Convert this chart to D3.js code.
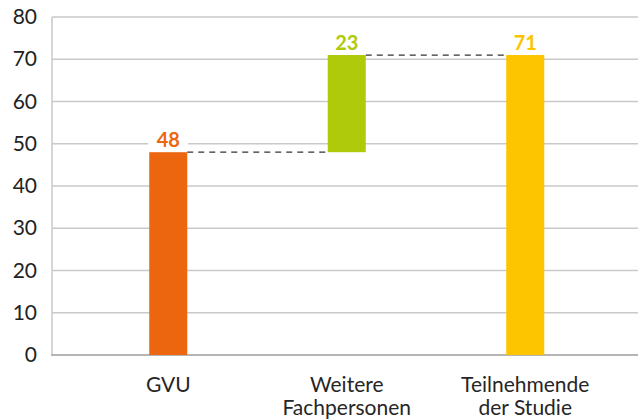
<!DOCTYPE html>
<html>
<head>
<meta charset="utf-8">
<script src="https://cdn.jsdelivr.net/npm/d3@7"></script>
<style>
  html, body { margin: 0; padding: 0; background: #fff; }
  svg { display: block; font-family: Lato, "Open Sans", sans-serif; }
</style>
</head>
<body>
<svg id="chart" width="638" height="419"></svg>
<script>
// Waterfall: each step starts where the previous one ends; the last bar is the total.
const categories = [["GVU"], ["Weitere", "Fachpersonen"], ["Teilnehmende", "der Studie"]];
const startValues = [0, 48, 0];
const endValues = [48, 71, 71];
const labels = ["48", "23", "71"];
const colors = ["#EC6610", "#AFCA0B", "#FDC500"];
const yTicks = [0, 10, 20, 30, 40, 50, 60, 70, 80];

const svg = d3.select("#chart");
const plotLeft = 52, plotRight = 638, plotTop = 17, plotBottom = 355;

const y = d3.scaleLinear().domain([0, 80]).range([plotBottom, plotTop]);
const x = d3.scaleBand()
  .domain(d3.range(categories.length))
  .range([79, 614.5])
  .paddingInner(0.787)
  .paddingOuter(0.787 / 2);

// Gridlines
svg.append("g")
  .selectAll("line")
  .data(yTicks.filter(d => d > 0))
  .join("line")
  .attr("x1", plotLeft).attr("x2", plotRight)
  .attr("y1", d => y(d)).attr("y2", d => y(d))
  .attr("stroke", "#c9c9c9").attr("stroke-width", 1.5);

// Left axis line
svg.append("line")
  .attr("x1", plotLeft).attr("x2", plotLeft)
  .attr("y1", plotTop).attr("y2", plotBottom)
  .attr("stroke", "#c9c9c9").attr("stroke-width", 1.5);

// Baseline
svg.append("line")
  .attr("x1", plotLeft - 1).attr("x2", plotRight)
  .attr("y1", y(0)).attr("y2", y(0))
  .attr("stroke", "#b5b5b5").attr("stroke-width", 2);

// Y tick labels
const yAxis = d3.axisLeft(y).tickValues(yTicks).tickSize(0).tickPadding(15);
const yg = svg.append("g").attr("transform", `translate(${plotLeft},0)`).call(yAxis);
yg.select(".domain").remove();
yg.selectAll("text")
  .attr("font-size", 21).attr("fill", "#222")
  .attr("font-family", "Lato, 'Open Sans', sans-serif");

// Dashed connectors between consecutive bars
const connectors = d3.range(categories.length - 1).map(i => ({
  x1: x(i) + x.bandwidth(),
  x2: x(i + 1),
  v: endValues[i]
}));
svg.append("g")
  .selectAll("line")
  .data(connectors)
  .join("line")
  .attr("x1", d => d.x1).attr("x2", d => d.x2)
  .attr("y1", d => y(d.v)).attr("y2", d => y(d.v))
  .attr("stroke", "#333").attr("stroke-width", 1.3)
  .attr("stroke-dasharray", "6,5");

// Bars
svg.append("g")
  .selectAll("rect")
  .data(d3.range(categories.length))
  .join("rect")
  .attr("x", i => x(i))
  .attr("width", x.bandwidth())
  .attr("y", i => y(endValues[i]))
  .attr("height", i => y(startValues[i]) - y(endValues[i]))
  .attr("fill", i => colors[i]);

// Value labels with white backing
const lg = svg.append("g");
d3.range(categories.length).forEach(i => {
  const cx = x(i) + x.bandwidth() / 2;
  const by = y(endValues[i]) - 5;
  lg.append("rect")
    .attr("x", cx - 20).attr("y", by - 17)
    .attr("width", 40).attr("height", 19)
    .attr("fill", "#fff");
  lg.append("text")
    .attr("x", cx).attr("y", by)
    .attr("text-anchor", "middle")
    .attr("font-size", 20).attr("font-weight", 700)
    .attr("fill", colors[i])
    .text(labels[i]);
});

// Category labels, one text element per line
const cg = svg.append("g");
categories.forEach((lines, i) => {
  lines.forEach((ln, k) => {
    cg.append("text")
      .attr("x", x(i) + x.bandwidth() / 2)
      .attr("y", 392 + k * 23)
      .attr("text-anchor", "middle")
      .attr("font-size", 21)
      .attr("fill", "#262626")
      .text(ln);
  });
});
</script>
</body>
</html>
